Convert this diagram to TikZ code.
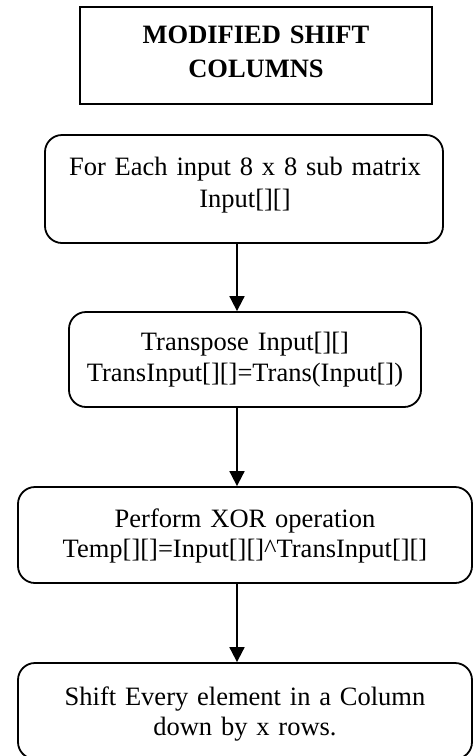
\documentclass[tikz,border=0pt]{standalone}
\usepackage{fontspec}
\setmainfont{Liberation Serif}
\usetikzlibrary{arrows.meta}
\begin{document}
\begin{tikzpicture}[x=1pt, y=-1pt,
  titlebox/.style={draw, line width=2.4pt, inner sep=0pt},
  stepbox/.style={draw, line width=1.8pt, rounded corners=17pt, inner sep=0pt},
  txt/.style={font=\fontsize{26.5}{31}\selectfont, align=center, text width=440pt, inner sep=0pt, anchor=base},
  flow/.style={-{Triangle[length=15pt, width=15pt]}, line width=1.8pt}]
\useasboundingbox (0,0) rectangle (473,756);
\clip (0,0) rectangle (473,756);

% frames
\node[titlebox, minimum width=352pt, minimum height=97pt] (head) at (256,55.5) {};
\node[stepbox, minimum width=398pt, minimum height=108pt] (b1) at (244,189) {};
\node[stepbox, minimum width=352pt, minimum height=95pt] (b2) at (245,359.5) {};
\node[stepbox, minimum width=454pt, minimum height=96pt] (b3) at (245,535) {};
\node[stepbox, minimum width=454pt, minimum height=96pt] (b4) at (245,711) {};

% texts
\node[txt, font=\fontsize{26.5}{34}\selectfont\bfseries] (headtext) at (256,43) {MODIFIED SHIFT\\COLUMNS};
\node[txt, font=\fontsize{26.5}{32}\selectfont] (t1) at (245,175) {For Each input 8 x 8 sub matrix\\Input[][]};
\node[txt] (t2) at (245,350) {Transpose Input[][]\\TransInput[][]=Trans(Input[])};
\node[txt, font=\fontsize{26.5}{30}\selectfont] (t3) at (245,527) {Perform XOR operation\\Temp[][]=Input[][]\textasciicircum TransInput[][]};
\node[txt, font=\fontsize{26.5}{30}\selectfont] (t4) at (245,705) {Shift Every element in a Column\\down by x rows.};

% connectors
\coordinate (axis) at (237,0);
\draw[flow] (b1.south -| axis) -- (b2.north -| axis);
\draw[flow] (b2.south -| axis) -- (b3.north -| axis);
\draw[flow] (b3.south -| axis) -- (b4.north -| axis);
\end{tikzpicture}
\end{document}
